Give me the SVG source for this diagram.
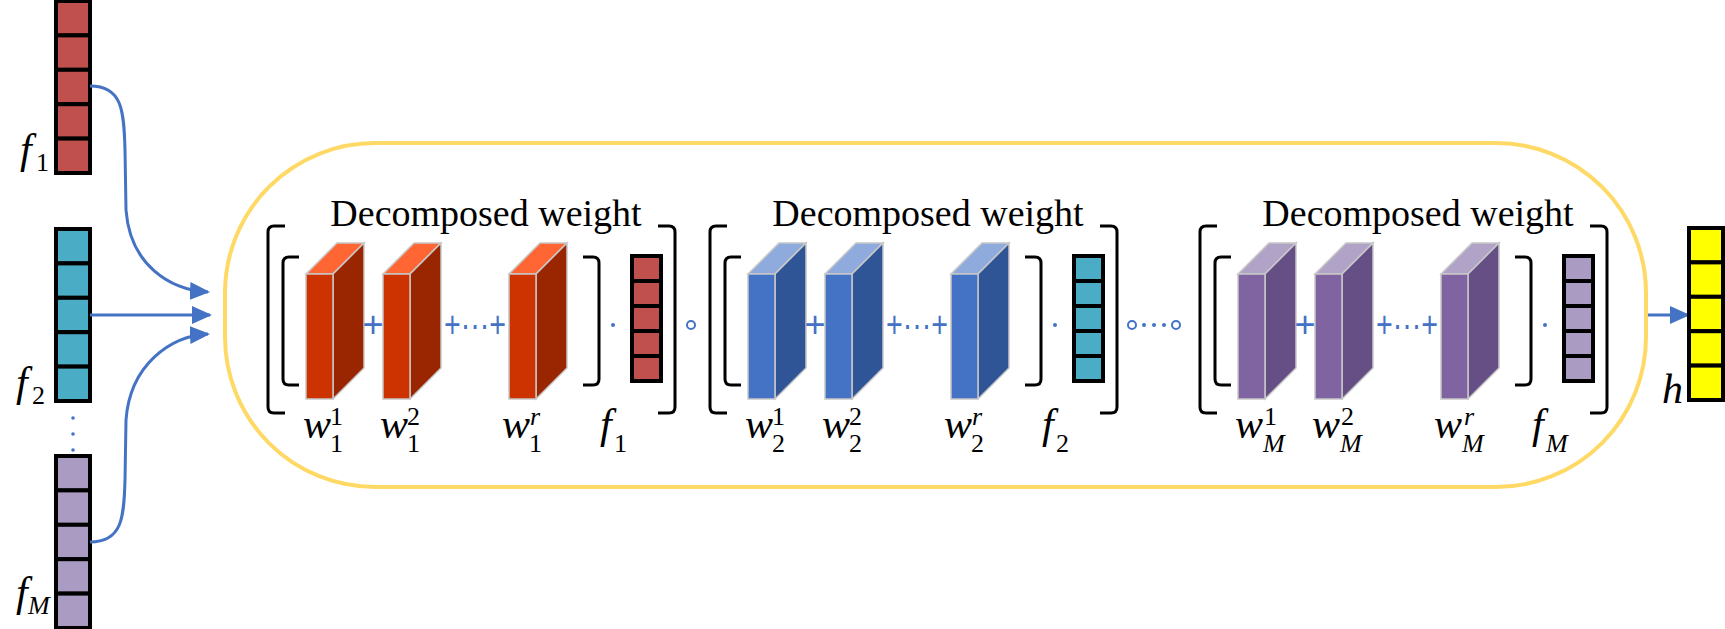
<svg xmlns="http://www.w3.org/2000/svg" width="1725" height="629" viewBox="0 0 1725 629">
<style>
.cell{stroke:#000;stroke-width:4}
.brk{fill:none;stroke:#000;stroke-width:3}
.op{font-family:"Liberation Sans",Arial,sans-serif;font-size:36px;fill:#4472C4;text-anchor:middle}
.t{font-family:"Liberation Serif","Times New Roman","DejaVu Serif",serif;font-size:38px;fill:#000}
.m{font-family:"Liberation Serif","Times New Roman","DejaVu Serif",serif;font-style:italic;font-size:42px;fill:#000}
.s{font-family:"Liberation Serif","Times New Roman","DejaVu Serif",serif;font-size:26px;fill:#000}
.si{font-family:"Liberation Serif","Times New Roman","DejaVu Serif",serif;font-style:italic;font-size:26px;fill:#000}
.con{fill:none;stroke:#4472C4;stroke-width:3}
.cs{stroke:#c8c8c8;stroke-width:1.5}
</style>
<defs>
<marker id="ah2" markerWidth="20" markerHeight="18" refX="18" refY="9" orient="auto" markerUnits="userSpaceOnUse"><path d="M0,0 L20,9 L0,18 z" fill="#4472C4"/></marker>
<g id="vec5"><rect x="0" y="0" width="29" height="25" class="cell"/><rect x="0" y="25" width="29" height="25" class="cell"/><rect x="0" y="50" width="29" height="25" class="cell"/><rect x="0" y="75" width="29" height="25" class="cell"/><rect x="0" y="100" width="29" height="25" class="cell"/></g>
<g id="vbig"><rect x="0" y="0" width="34" height="34.4" class="cell"/><rect x="0" y="34.4" width="34" height="34.4" class="cell"/><rect x="0" y="68.8" width="34" height="34.4" class="cell"/><rect x="0" y="103.2" width="34" height="34.4" class="cell"/><rect x="0" y="137.6" width="34" height="34.4" class="cell"/></g>
<g id="cube"><polygon points="0,0 31,-31 58,-31 27,0" class="cs" fill="var(--t)"/><polygon points="27,0 58,-31 58,94 27,125" class="cs" fill="var(--s)"/><rect x="0" y="0" width="27" height="125" class="cs" fill="var(--f)"/></g>
</defs>

<rect x="225" y="143" width="1421" height="344" rx="150" ry="150" fill="none" stroke="#FFD966" stroke-width="4"/>

<g id="input-f1"><use href="#vbig" x="56" y="1" fill="#C0504D"/><text class="m" x="20" y="163">f</text><text class="s" x="36" y="171">1</text></g>
<g id="input-f2"><use href="#vbig" x="56" y="229" fill="#4BACC6"/><text class="m" x="16" y="396">f</text><text class="s" x="32" y="404">2</text></g>
<g id="dots" fill="#4472C4"><circle cx="73" cy="418" r="1.8"/><circle cx="73" cy="434" r="1.8"/><circle cx="73" cy="450" r="1.8"/></g>
<g id="input-fM"><use href="#vbig" x="56" y="456" fill="#A99BC2"/><text class="m" x="16" y="606">f</text><text class="si" x="28" y="614">M</text></g>

<g id="connectors">
<path class="con" d="M90,86 C122,86 124,110 125,150 L126,210 C130,265 170,290 208,292" marker-end="url(#ah2)"/>
<path class="con" d="M90,315 L210,315" marker-end="url(#ah2)"/>
<path class="con" d="M90,542 C122,542 124,518 125,480 L126,420 C130,365 170,336 208,334" marker-end="url(#ah2)"/>
<path class="con" d="M1648,315 L1688,315" marker-end="url(#ah2)"/>
</g>

<g id="block1" style="--f:#CC3300;--s:#992600;--t:#FF6633">
<text class="t" x="486" y="226" text-anchor="middle">Decomposed weight</text>
<path class="brk" d="M285,226 L274,226 Q268,226 268,232 L268,407 Q268,413 274,413 L285,413"/>
<path class="brk" d="M658,226 L669,226 Q675,226 675,232 L675,407 Q675,413 669,413 L658,413"/>
<path class="brk" d="M299,257 L289,257 Q283,257 283,263 L283,379 Q283,385 289,385 L299,385"/>
<path class="brk" d="M583,257 L593,257 Q599,257 599,263 L599,379 Q599,385 593,385 L583,385"/>
<use href="#cube" x="306" y="274"/><use href="#cube" x="383" y="274"/><use href="#cube" x="509" y="274"/>
<text class="op" x="373" y="337">+</text><text class="op" x="475" y="337" textLength="62" lengthAdjust="spacingAndGlyphs">+···+</text>
<circle cx="613" cy="325" r="2" fill="#4472C4"/>
<use href="#vec5" x="632" y="256" fill="#C0504D"/>
<circle cx="691" cy="325" r="4" fill="none" stroke="#4472C4" stroke-width="2"/>
<text class="m" x="303" y="438">w</text><text class="s" x="330" y="425">1</text><text class="s" x="330" y="452">1</text>
<text class="m" x="380" y="438">w</text><text class="s" x="407" y="425">2</text><text class="s" x="407" y="452">1</text>
<text class="m" x="502" y="438">w</text><text class="si" x="530" y="425">r</text><text class="s" x="529" y="452">1</text>
<text class="m" x="600" y="438">f</text><text class="s" x="614" y="452">1</text>
</g>

<g id="block2" transform="translate(442,0)" style="--f:#4472C4;--s:#2F5597;--t:#8FAADC">
<text class="t" x="486" y="226" text-anchor="middle">Decomposed weight</text>
<path class="brk" d="M285,226 L274,226 Q268,226 268,232 L268,407 Q268,413 274,413 L285,413"/>
<path class="brk" d="M658,226 L669,226 Q675,226 675,232 L675,407 Q675,413 669,413 L658,413"/>
<path class="brk" d="M299,257 L289,257 Q283,257 283,263 L283,379 Q283,385 289,385 L299,385"/>
<path class="brk" d="M583,257 L593,257 Q599,257 599,263 L599,379 Q599,385 593,385 L583,385"/>
<use href="#cube" x="306" y="274"/><use href="#cube" x="383" y="274"/><use href="#cube" x="509" y="274"/>
<text class="op" x="373" y="337">+</text><text class="op" x="475" y="337" textLength="62" lengthAdjust="spacingAndGlyphs">+···+</text>
<circle cx="613" cy="325" r="2" fill="#4472C4"/>
<use href="#vec5" x="632" y="256" fill="#4BACC6"/>
<circle cx="690" cy="325" r="4" fill="none" stroke="#4472C4" stroke-width="2"/>
<g fill="#4472C4"><circle cx="702" cy="325" r="2"/><circle cx="712" cy="325" r="2"/><circle cx="722" cy="325" r="2"/></g>
<circle cx="734" cy="325" r="4" fill="none" stroke="#4472C4" stroke-width="2"/>
<text class="m" x="303" y="438">w</text><text class="s" x="330" y="425">1</text><text class="s" x="330" y="452">2</text>
<text class="m" x="380" y="438">w</text><text class="s" x="407" y="425">2</text><text class="s" x="407" y="452">2</text>
<text class="m" x="502" y="438">w</text><text class="si" x="530" y="425">r</text><text class="s" x="529" y="452">2</text>
<text class="m" x="600" y="438">f</text><text class="s" x="614" y="452">2</text>
</g>

<g id="block3" transform="translate(932,0)" style="--f:#8064A2;--s:#654F84;--t:#B1A2C8">
<text class="t" x="486" y="226" text-anchor="middle">Decomposed weight</text>
<path class="brk" d="M285,226 L274,226 Q268,226 268,232 L268,407 Q268,413 274,413 L285,413"/>
<path class="brk" d="M658,226 L669,226 Q675,226 675,232 L675,407 Q675,413 669,413 L658,413"/>
<path class="brk" d="M299,257 L289,257 Q283,257 283,263 L283,379 Q283,385 289,385 L299,385"/>
<path class="brk" d="M583,257 L593,257 Q599,257 599,263 L599,379 Q599,385 593,385 L583,385"/>
<use href="#cube" x="306" y="274"/><use href="#cube" x="383" y="274"/><use href="#cube" x="509" y="274"/>
<text class="op" x="373" y="337">+</text><text class="op" x="475" y="337" textLength="62" lengthAdjust="spacingAndGlyphs">+···+</text>
<circle cx="613" cy="325" r="2" fill="#4472C4"/>
<use href="#vec5" x="632" y="256" fill="#A99BC2"/>
<text class="m" x="303" y="438">w</text><text class="s" x="332" y="425">1</text><text class="si" x="331" y="452">M</text>
<text class="m" x="380" y="438">w</text><text class="s" x="409" y="425">2</text><text class="si" x="408" y="452">M</text>
<text class="m" x="502" y="438">w</text><text class="si" x="532" y="425">r</text><text class="si" x="530" y="452">M</text>
<text class="m" x="600" y="438">f</text><text class="si" x="614" y="452">M</text>
</g>

<g id="output-h"><use href="#vbig" x="1689" y="228" fill="#FFFF00"/><text class="m" x="1662" y="403">h</text></g>
</svg>
